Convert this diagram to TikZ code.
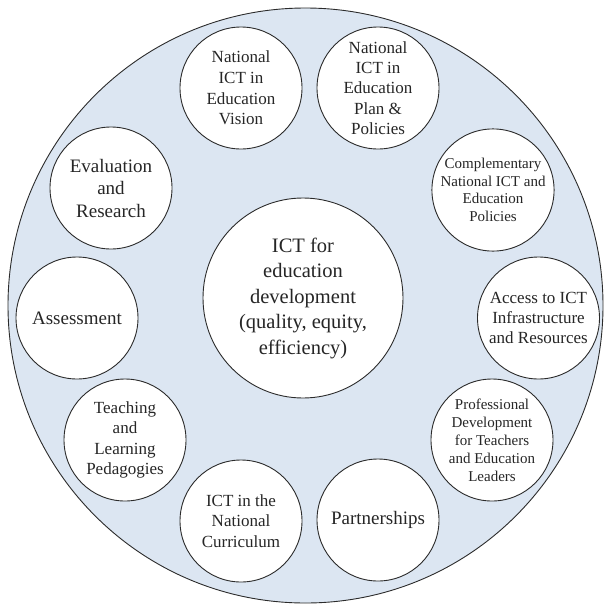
\documentclass[tikz,border=0pt]{standalone}
\usepackage{fontspec}
\setmainfont{Liberation Serif}
\definecolor{ringfill}{HTML}{DCE6F2}
\definecolor{edgegray}{HTML}{2B2B2B}
\newcommand{\fs}[2]{\fontsize{#1}{#2}\selectfont}
\begin{document}
\begin{tikzpicture}[x=1pt,y=-1pt,
  topic/.style={circle, draw=edgegray, line width=0.9pt, fill=white,
    minimum size=122pt, inner sep=0pt, align=center, text=black!85},
  hub/.style={topic, minimum size=200pt}]
\useasboundingbox (0,0) rectangle (604,606);
% outer ring
\node[circle, draw=edgegray, line width=0.9pt, fill=ringfill,
  minimum size=595pt, inner sep=0pt] (ring) at (305.5,305.5) {};
% central hub
\node[hub, font=\fs{20.5}{25.5}] (hub) at (303,298)
  {ICT for\\education\\development\\(quality, equity,\\efficiency)};
% surrounding topics
\node[topic, font=\fs{17}{20.6}] (vision) at (241,88)
  {National\\ICT in\\Education\\Vision};
\node[topic, font=\fs{17}{20.4}] (plan) at (378,88)
  {National\\ICT in\\Education\\Plan \&\\Policies};
\node[topic, font=\fs{15}{17.6}] (compl) at (493,190)
  {Complementary\\National ICT and\\Education\\Policies};
\node[topic, font=\fs{17}{20}] (access) at (538.5,318)
  {Access to ICT\\Infrastructure\\and Resources};
\node[topic, font=\fs{15}{18}] (prof) at (492,440)
  {Professional\\Development\\for Teachers\\and Education\\Leaders};
\node[topic, font=\fs{19}{22.5}] (partner) at (378,520)
  {Partnerships};
\node[topic, font=\fs{17}{20.8}] (curric) at (241,521)
  {ICT in the\\National\\Curriculum};
\node[topic, font=\fs{17}{20.5}] (teach) at (125,440)
  {Teaching\\and\\Learning\\Pedagogies};
\node[topic, font=\fs{19}{22.5}] (assess) at (77,318)
  {Assessment};
\node[topic, font=\fs{19}{22.5}] (eval) at (111,188)
  {Evaluation\\and\\Research};
\end{tikzpicture}
\end{document}
